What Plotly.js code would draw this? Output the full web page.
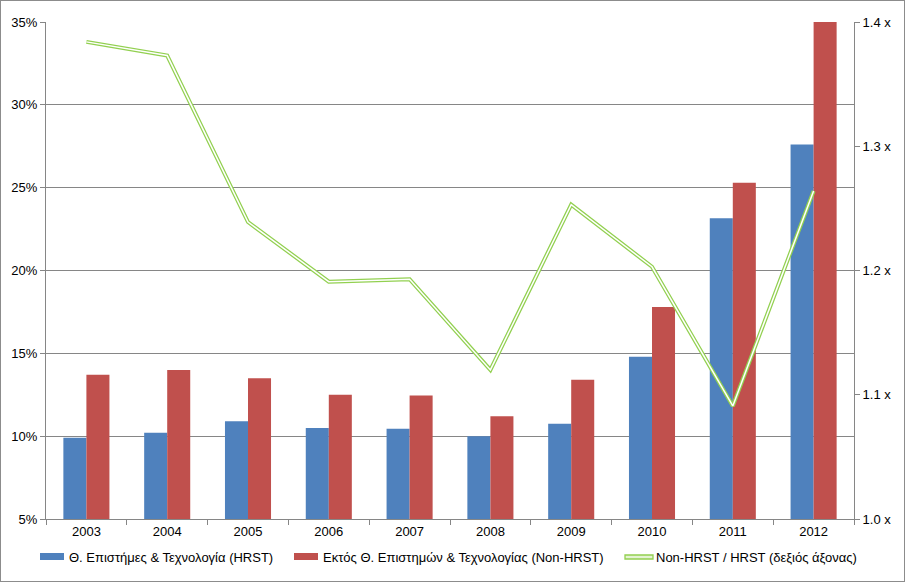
<!DOCTYPE html>
<html>
<head>
<meta charset="utf-8">
<script src="https://cdn.plot.ly/plotly-3.0.1.min.js"></script>
<style>
  body { margin: 0; background: #fff; }
  #frame { width: 905px; height: 582px; box-sizing: border-box; border: 1px solid #8c8c8c; }
  #chart { width: 903px; height: 580px; }
</style>
</head>
<body>
<div id="frame"><div id="chart"></div></div>
<script>
// years on the x axis
const years = ['2003', '2004', '2005', '2006', '2007', '2008', '2009', '2010', '2011', '2012']

// share in % (left axis)
const hrst = [9.9, 10.2, 10.9, 10.5, 10.45, 10.0, 10.75, 14.8, 23.15, 27.6]
const nonHrst = [13.7, 14.0, 13.5, 12.5, 12.45, 11.2, 13.4, 17.8, 25.3, 35.0]

// ratio Non-HRST / HRST (right axis)
const ratio = [1.384, 1.373, 1.239, 1.191, 1.193, 1.12, 1.253, 1.203, 1.091, 1.264]

const nameHrst = 'Θ. Επιστήμες & Τεχνολογία (HRST)'
const nameNon = 'Εκτός Θ. Επιστημών & Τεχνολογίας (Non-HRST)'
const nameRatio = 'Non-HRST / HRST (δεξιός άξονας)'

const gray = '#868686'
const blue = '#4f81bd'
const red = '#c0504d'
const green = '#92d050'

// plot area in page pixels, used to place the hand made legend
const plotLeft = 46, plotWidth = 808, plotBottom = 519, plotHeight = 497
let px = function (X) { return (X - plotLeft) / plotWidth }
let py = function (Y) { return (plotBottom - Y) / plotHeight }

let traces = [
  { type: 'bar', x: years, y: hrst, name: nameHrst, marker: { color: blue } },
  { type: 'bar', x: years, y: nonHrst, name: nameNon, marker: { color: red } },
  // double line: wide green stroke with a thin white one on top
  {
    type: 'scatter', mode: 'lines', x: years, y: ratio, yaxis: 'y2',
    name: nameRatio, line: { color: green, width: 4 }
  },
  {
    type: 'scatter', mode: 'lines', x: years, y: ratio, yaxis: 'y2',
    hoverinfo: 'skip', line: { color: '#ffffff', width: 1.5 }
  }
]

// legend: symbol boxes + labels in one row, like the excel one
const legendY = 557
let legendShapes = [
  { type: 'rect', xref: 'paper', yref: 'paper', x0: px(40), x1: px(64), y0: py(560), y1: py(553),
    fillcolor: blue, line: { width: 0 } },
  { type: 'rect', xref: 'paper', yref: 'paper', x0: px(294), x1: px(318), y0: py(560), y1: py(553),
    fillcolor: red, line: { width: 0 } },
  { type: 'rect', xref: 'paper', yref: 'paper', x0: px(625), x1: px(653), y0: py(559), y1: py(555),
    fillcolor: '#e4f3d3', line: { color: green, width: 1.3 } }
]
let legendLabels = [
  { text: nameHrst, x: px(67) },
  { text: nameNon, x: px(321) },
  { text: nameRatio, x: px(654) }
].map(item => ({
  text: item.text, x: item.x, y: py(legendY), xref: 'paper', yref: 'paper',
  xanchor: 'left', yanchor: 'middle', showarrow: false, font: { size: 13 }
}))

let layout = {
  width: 903,
  height: 580,
  margin: { l: 45, r: 50, t: 21, b: 62 },
  paper_bgcolor: '#ffffff',
  plot_bgcolor: '#ffffff',
  font: { family: 'Liberation Sans, Arial, sans-serif', size: 13, color: '#000' },
  barmode: 'group',
  bargap: 0.43,
  bargroupgap: 0,
  showlegend: false,
  shapes: legendShapes,
  annotations: legendLabels,
  xaxis: {
    type: 'category',
    showline: true, linecolor: gray, linewidth: 1,
    ticks: 'outside', tickson: 'boundaries', ticklen: 5, tickcolor: gray,
    showgrid: false, zeroline: false
  },
  yaxis: {
    range: [5, 35], dtick: 5, tick0: 5, ticksuffix: '%',
    showline: true, linecolor: gray, linewidth: 1,
    ticks: 'outside', ticklen: 5, tickcolor: gray,
    showgrid: true, gridcolor: gray, gridwidth: 1, zeroline: false
  },
  yaxis2: {
    overlaying: 'y', side: 'right',
    range: [1.0, 1.4], dtick: 0.1, tick0: 1.0, tickformat: '.1f', ticksuffix: ' x',
    showline: true, linecolor: gray, linewidth: 1,
    ticks: 'outside', ticklen: 5, tickcolor: gray,
    showgrid: false, zeroline: false
  }
}

Plotly.newPlot('chart', traces, layout, { displayModeBar: false, responsive: false })
</script>
</body>
</html>
